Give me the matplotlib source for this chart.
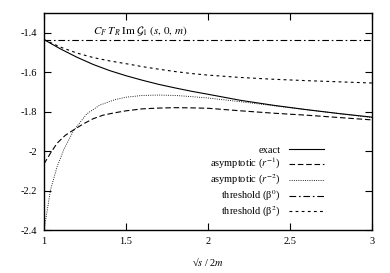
import matplotlib
matplotlib.use("Agg")
import matplotlib.pyplot as plt

# values
x_exact = [1.0, 1.1, 1.2, 1.3, 1.4, 1.5, 1.6, 1.7, 1.8, 1.9, 2.0, 2.2, 2.4, 2.6, 2.8, 3.0]
y_exact = [-1.435, -1.482, -1.524, -1.561, -1.592, -1.618, -1.641, -1.662, -1.680,
           -1.697, -1.712, -1.743, -1.768, -1.790, -1.810, -1.828]

x_asym1 = [1.0, 1.04, 1.08, 1.13, 1.18, 1.24, 1.3, 1.36, 1.43, 1.5, 1.6, 1.7, 1.8,
           1.9, 2.0, 2.2, 2.4, 2.6, 2.8, 3.0]
y_asym1 = [-2.065, -2.010, -1.960, -1.920, -1.893, -1.862, -1.836, -1.818, -1.806,
           -1.796, -1.786, -1.782, -1.780, -1.781, -1.783, -1.796, -1.808, -1.818,
           -1.830, -1.842]

x_asym2 = [1.0, 1.01, 1.04, 1.08, 1.12, 1.18, 1.26, 1.34, 1.43, 1.5, 1.6, 1.7, 1.8,
           1.9, 2.0, 2.2, 2.4, 2.6, 2.8, 3.0]
y_asym2 = [-2.400, -2.350, -2.196, -2.079, -1.994, -1.897, -1.812, -1.767, -1.740,
           -1.727, -1.718, -1.716, -1.718, -1.724, -1.731, -1.750, -1.770, -1.790,
           -1.810, -1.830]

x_thr0 = [1.0, 3.0]
y_thr0 = [-1.435, -1.435]

x_thr2 = [1.0, 1.1, 1.2, 1.3, 1.4, 1.5, 1.6, 1.7, 1.8, 1.9, 2.0, 2.2, 2.4, 2.6, 2.8, 3.0]
y_thr2 = [-1.435, -1.473, -1.503, -1.526, -1.543, -1.557, -1.572, -1.585, -1.597,
          -1.607, -1.615, -1.627, -1.636, -1.643, -1.649, -1.655]

x_ticks = [1, 1.5, 2, 2.5, 3]
x_tick_labels = ["1", "1.5", "2", "2.5", "3"]
y_ticks = [-2.4, -2.2, -2.0, -1.8, -1.6, -1.4]
y_tick_labels = ["-2.4", "-2.2", "-2", "-1.8", "-1.6", "-1.4"]

plt.rcParams["font.family"] = ["Liberation Serif", "DejaVu Serif"]
plt.rcParams["mathtext.fontset"] = "stix"
plt.rcParams["font.size"] = 7.5

fig = plt.figure(figsize=(3.9, 2.73), dpi=100)
ax = fig.add_axes([0.1128, 0.1575, 0.841, 0.795])

lw = 0.8
ax.plot(x_exact, y_exact, color="black", lw=lw, ls="-", label="exact")
ax.plot(x_asym1, y_asym1, color="black", lw=lw, ls=(0, (5, 2.5)),
        label=r"asymptotic ($r^{-1}$)")
ax.plot(x_asym2, y_asym2, color="black", lw=lw * 0.8, ls=(0, (1, 1.5)),
        label=r"asymptotic ($r^{-2}$)")
ax.plot(x_thr0, y_thr0, color="black", lw=lw, ls=(0, (6, 2.5, 1.5, 2.5)),
        label=r"threshold (β$^0$)")
ax.plot(x_thr2, y_thr2, color="black", lw=lw, ls=(0, (2.5, 3)),
        label=r"threshold (β$^2$)")

ax.set_xlim(1, 3)
ax.set_ylim(-2.4, -1.3)
ax.set_xticks(x_ticks)
ax.set_xticklabels(x_tick_labels)
ax.set_yticks(y_ticks)
ax.set_yticklabels(y_tick_labels)
ax.tick_params(direction="in", length=5, width=0.8, top=True, right=True,
               labelsize=7.5)
ax.tick_params(axis="y", pad=5)
ax.tick_params(axis="x", pad=5)
for spine in ax.spines.values():
    spine.set_linewidth(1.0)

ax.text(1.585, -1.392, r"$C_F\;T_R\;\mathrm{Im}\;\mathcal{G}_1\;(s,\,0,\,m)$",
        ha="center", va="center", fontsize=8)

ax.set_xlabel("√$s$ / 2$m$", fontsize=7.5, labelpad=7)

ax.legend(loc="lower right", bbox_to_anchor=(0.87, 0.025), frameon=False,
          markerfirst=False, handlelength=3.4, handletextpad=0.8,
          labelspacing=0.15, borderpad=0, fontsize=7.5)

fig.savefig("out.png", dpi=100)
